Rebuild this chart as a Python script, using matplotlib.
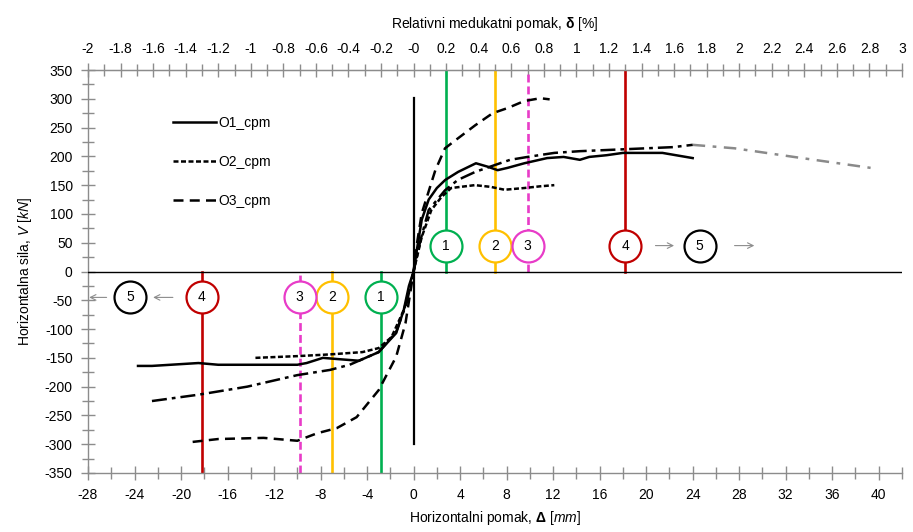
import numpy as np
import matplotlib
matplotlib.use("Agg")
import matplotlib.pyplot as plt
from matplotlib.ticker import MultipleLocator, FuncFormatter, FixedLocator
from matplotlib import font_manager

# ---- data (Δ in mm, V in kN) ----
o1_x = [-23.7, -22.5, -18.5, -16.8, -10.0, -9.2, -7.8, -6.6, -4.7, -3.0, -1.5, -0.85, -0.4, 0,
        0.3, 0.7, 1.3, 2.0, 2.72, 3.83, 5.36, 6.38, 7.23, 8.08, 9.52, 11.48, 12.9, 14.3, 15.1, 16.6,
        18.0, 21.4, 24.0]
o1_v = [-164, -164, -159, -162, -162, -159, -150, -152, -155, -140, -107, -67, -25, 0,
        40, 90, 125, 145, 159, 173, 188, 182, 176, 180, 188, 197, 199, 194, 199, 202,
        206, 206, 197]

o2_x = [-13.6, -10.0, -7.2, -4.4, -3.0, -1.9, -0.8, 0, 0.7, 1.53, 2.38, 3.23, 5.27, 6.63, 7.82,
        9.52, 10.9, 12.1]
o2_v = [-150, -147, -144, -140, -133, -114, -65, 0, 60, 107, 129, 145, 150, 147, 142,
        145, 148, 150]

o3_x = [-19.0, -16.8, -12.9, -10.0, -8.3, -6.6, -4.9, -3.0, -1.5, -0.7, 0, 0.3, 0.7, 1.87, 2.7,
        3.6, 5.3, 6.8, 8.1, 9.5, 10.9, 11.7]
o3_v = [-296, -291, -289, -294, -281, -272, -253, -206, -148, -90, 0, 50, 101, 176, 214,
        228, 254, 275, 284, 296, 301, 299]

o4_x = [-22.5, -18.5, -14.3, -10.0, -7.2, -5.5, -3.0, -1.5, -0.6, 0, 0.6, 1.3, 2.7, 3.8, 5.3,
        7.0, 8.3, 9.8, 12.1, 14.3, 16.6, 20.0, 22.3, 24.0]
o4_v = [-225, -214, -200, -180, -171, -162, -140, -105, -55, 0, 55, 107, 141, 159, 173,
        185, 194, 199, 206, 209, 211, 214, 216, 220]

o4_ext_x = [24.0, 27.6, 32.7, 39.3]
o4_ext_v = [220, 214, 199, 180]

# limit states (drift %) and colours
ls_drift = [0.2, 0.5, 0.7, 1.3]
ls_labels = ["1", "2", "3", "4"]
ls_colors = ["#00B050", "#FFC000", "#E83CC8", "#C00000"]
ls_dashed = [False, False, True, False]
storey_h = 1400.0  # mm, drift[%] = Δ / h * 100

top_major = np.round(np.arange(-2.0, 3.01, 0.2), 1)
top_minor = np.round(np.arange(-2.0, 3.01, 0.1), 1)

# ---- fonts ----
names = {f.name for f in font_manager.fontManager.ttflist}
fam = "Liberation Sans Narrow" if "Liberation Sans Narrow" in names else "Liberation Sans"
plt.rcParams["font.family"] = [fam, "DejaVu Sans"]
plt.rcParams["axes.unicode_minus"] = False
plt.rcParams["mathtext.fontset"] = "custom"
plt.rcParams["mathtext.rm"] = fam
plt.rcParams["mathtext.it"] = fam + ":italic"
plt.rcParams["mathtext.bf"] = fam + ":bold"

fig = plt.figure(figsize=(9.13, 5.32), dpi=100)
ax = fig.add_axes([88 / 913, 59 / 532, 814 / 913, 403 / 532])

grey = "#8C8C8C"
mm_per_pct = storey_h / 100.0

# limit state lines + circles
for d, lab, c, dsh in zip(ls_drift, ls_labels, ls_colors, ls_dashed):
    for sgn in (1, -1):
        xv = sgn * d * mm_per_pct
        y0, y1 = (0, 350) if sgn > 0 else (-350, 0)
        ax.plot([xv, xv], [y0, y1], color=c, lw=1.9, ls=(0, (3, 1.5)) if dsh else "-", zorder=2)
        yc = 45 if sgn > 0 else -45
        ax.plot(xv, yc, marker="o", ms=23, mfc="white", mec=c, mew=1.6, zorder=6)
        ax.text(xv, yc, lab, ha="center", va="center", fontsize=10, zorder=7)

# limit state 5 (black) with arrows
for xc, yc in [(24.6, 45), (-24.4, -45)]:
    ax.plot(xc, yc, marker="o", ms=23, mfc="white", mec="black", mew=1.6, zorder=6)
    ax.text(xc, yc, "5", ha="center", va="center", fontsize=10, zorder=7)
arrows = [(20.8, 22.4, 45), (27.6, 29.3, 45), (-20.7, -22.4, -45), (-26.4, -27.9, -45)]
for xa, xb, yc in arrows:
    ax.annotate("", xy=(xb, yc), xytext=(xa, yc),
                arrowprops=dict(arrowstyle="->", color=grey, lw=0.8, shrinkA=0, shrinkB=0), zorder=5)

# axes cross lines
ax.axhline(0, color="black", lw=1.0, zorder=3)
ax.plot([0, 0], [302, -299], color="black", lw=1.6, zorder=3)

# curves
ax.plot(o4_ext_x, o4_ext_v, color="#8A8A8A", lw=1.8, ls=(0, (5, 3, 1.5, 3)), zorder=4)
ax.plot(o4_x, o4_v, color="black", lw=1.8, ls=(0, (6, 2, 1.5, 2)), zorder=4)
l1, = ax.plot(o1_x, o1_v, color="black", lw=1.8, ls="-", zorder=4, label="O1_cpm")
l2, = ax.plot(o2_x, o2_v, color="black", lw=1.8, ls=(0, (2, 1)), zorder=4, label="O2_cpm")
l3, = ax.plot(o3_x, o3_v, color="black", lw=1.8, ls=(0, (4, 2.5)), zorder=4, label="O3_cpm")

ax.set_xlim(-28, 42)
ax.set_ylim(-350, 350)

ax.spines["right"].set_visible(False)
for s in ["left", "bottom", "top"]:
    ax.spines[s].set_color(grey)
    ax.spines[s].set_linewidth(1.0)

ax.set_xticks(np.arange(-28, 41, 4))
ax.xaxis.set_minor_locator(MultipleLocator(2))
ax.yaxis.set_major_locator(MultipleLocator(50))
ax.yaxis.set_minor_locator(MultipleLocator(25))
ax.tick_params(axis="both", which="both", direction="inout", color=grey, width=1.0,
               labelsize=10, pad=6)
ax.tick_params(axis="both", which="major", length=10)
ax.tick_params(axis="both", which="minor", length=8)
ax.xaxis.set_major_formatter(FuncFormatter(lambda v, p: "%g" % v))
ax.yaxis.set_major_formatter(FuncFormatter(lambda v, p: "%g" % v))

sec = ax.secondary_xaxis("top", functions=(lambda x: x / mm_per_pct, lambda p: p * mm_per_pct))
sec.xaxis.set_major_locator(FixedLocator(top_major))
sec.xaxis.set_minor_locator(FixedLocator(top_minor))
sec.xaxis.set_major_formatter(FuncFormatter(lambda v, p: "%g" % round(v, 1)))
sec.spines["top"].set_color(grey)
sec.tick_params(axis="x", which="both", direction="inout", color=grey, width=1.0,
                labelsize=10, pad=5)
sec.tick_params(axis="x", which="major", length=10)
sec.tick_params(axis="x", which="minor", length=8)
sec.set_xlabel(r"Relativni medukatni pomak, $\mathbf{\delta}$ [%]", fontsize=10, labelpad=10)

ax.set_xlabel(r"Horizontalni pomak, $\mathbf{\Delta}$ [$\mathit{mm}$]", fontsize=10, labelpad=5)
ax.set_ylabel(r"Horizontalna sila, $\mathit{V}$ [$\mathit{kN}$]", fontsize=10, labelpad=8)

ax.legend(handles=[l1, l2, l3], loc="upper left", bbox_to_anchor=(166 / 913, 1 - 109 / 532),
          bbox_transform=fig.transFigure, frameon=False, fontsize=10, handlelength=3.1,
          handletextpad=0.2, labelspacing=1.8, borderpad=0)

fig.savefig("out.png", dpi=100)
